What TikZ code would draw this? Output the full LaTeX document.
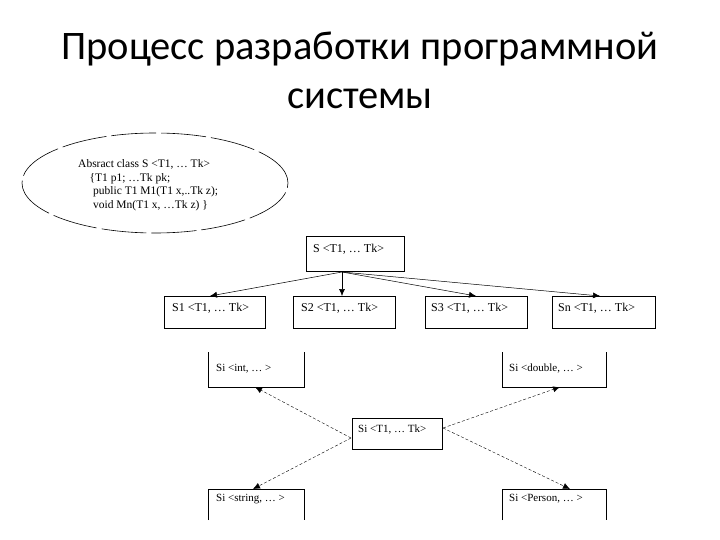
\documentclass[tikz,border=0pt]{standalone}
\usepackage{fontspec}
\setmainfont{Liberation Serif}
\newfontfamily\titlefont{Carlito}
\usetikzlibrary{arrows.meta,shapes.geometric}
\begin{document}
\begin{tikzpicture}[x=1pt,y=-1pt,
  box/.style={draw,line width=0.6pt,inner sep=0},
  lbl/.style={font=\fontsize{12}{13}\selectfont,anchor=west,inner sep=0},
  slbl/.style={lbl,font=\fontsize{11}{12}\selectfont},
  arr/.style={-{Latex[length=7pt,width=6pt]},line width=0.5pt},
  darr/.style={arr,densely dashed,line width=0.4pt}]
\useasboundingbox (0,0) rectangle (720,540);
\node[font=\titlefont\fontsize{40.5}{49}\selectfont,align=center] (title) at (360,70) {Процесс разработки программной\\системы};
\node[draw,ellipse,line width=0.6pt,dash pattern=on 45pt off 5pt,minimum width=266,minimum height=100] (ell) at (155,183) {};
\node[lbl,align=left,font=\fontsize{11.5}{13.5}\selectfont] (ellt) at (78,185) {Absract class S <T1, … Tk>\\\hspace{1em}\{T1 p1; …Tk pk;\\\hspace{1.3em}public T1 M1(T1 x,..Tk z);\\\hspace{1.3em}void Mn(T1 x, …Tk z) \}};
% S level
\draw[box] (306,236) rectangle (404,271);
\node[lbl] (s) at (313,249) {S <T1, … Tk>};
\coordinate (sb) at (342,272);
\draw[box] (164,296) rectangle (265,328);
\node[lbl] (s1) at (172,308) {S1 <T1, … Tk>};
\draw[box] (293,296) rectangle (395,328);
\node[lbl] (s2) at (301,308) {S2 <T1, … Tk>};
\draw[box] (425,296) rectangle (527,328);
\node[lbl] (s3) at (431,308) {S3 <T1, … Tk>};
\draw[box] (552,296) rectangle (655,328);
\node[lbl] (sn) at (558,308) {Sn <T1, … Tk>};
\coordinate (t1) at (210,296);
\coordinate (t2) at (342,296);
\coordinate (t3) at (476,296);
\coordinate (tn) at (600,296);
\draw[arr] (sb) -- (t1);
\draw[arr] (sb) -- (t2);
\draw[arr] (sb) -- (t3);
\draw[arr] (sb) -- (tn);
% Si level
\draw[line width=0.6pt] (208,352) -- (208,387) -- (304,387) -- (304,352);
\node[slbl] (int) at (216,369) {Si <int, … >};
\draw[line width=0.6pt] (502,352) -- (502,387) -- (606,387) -- (606,352);
\node[slbl] (dbl) at (509,369) {Si <double, … >};
\draw[box] (352,418) rectangle (442,449);
\node[slbl] (si) at (358,430) {Si <T1, … Tk>};
\draw[line width=0.6pt] (208,520) -- (208,489) -- (304,489) -- (304,520);
\node[slbl] (str) at (216,499) {Si <string, … >};
\draw[line width=0.6pt] (502,520) -- (502,489) -- (606,489) -- (606,520);
\node[slbl] (per) at (509,499) {Si <Person, … >};
\coordinate (sil) at (351,438);
\coordinate (sir) at (443,428);
\coordinate (ti) at (255,387);
\coordinate (td) at (560,387);
\coordinate (ts) at (253,489);
\coordinate (tp) at (570,489);
\draw[darr] (sil) -- (ti);
\draw[darr] (sil) -- (ts);
\draw[darr] (sir) -- (td);
\draw[darr] (sir) -- (tp);
\end{tikzpicture}
\end{document}
